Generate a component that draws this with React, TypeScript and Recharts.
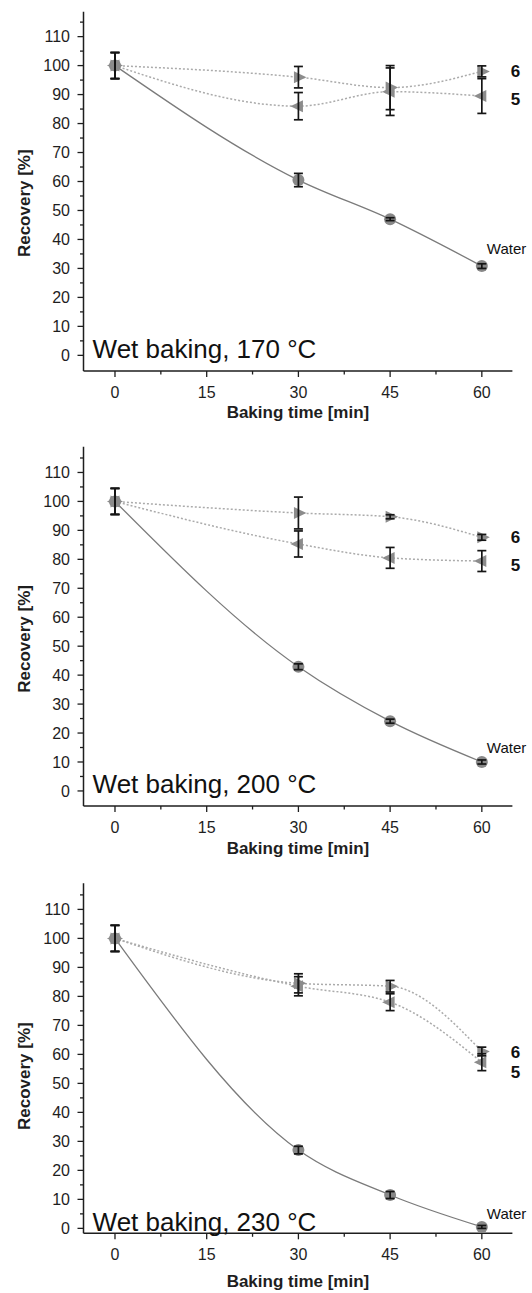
import React from 'react';
import { ComposedChart, Line, XAxis, YAxis, ErrorBar, ReferenceDot } from 'recharts';

const FONT = '"Liberation Sans", Arial, Helvetica, sans-serif';

// Baking times (min)
const times = [0, 30, 45, 60];

// Tick values
const xTicks = [0, 7.5, 15, 22.5, 30, 37.5, 45, 52.5, 60];
const xMajor = [0, 15, 30, 45, 60];
const yTicks = [0, 5, 10, 15, 20, 25, 30, 35, 40, 45, 50, 55, 60, 65, 70, 75, 80, 85, 90, 95, 100, 105, 110, 115];

// Panel titles
const titles = ['Wet baking, 170 °C', 'Wet baking, 200 °C', 'Wet baking, 230 °C'];

// 170 °C
const water170 = [100, 60.5, 47.0, 30.8];
const water170Err = [4.5, 2.3, 0.5, 0.8];
const c6_170 = [100, 96.0, 92.4, 98.0];
const c6_170Err = [4.5, 3.7, 7.6, 1.9];
const c5_170 = [100, 86.0, 91.0, 89.5];
const c5_170Err = [4.5, 4.7, 8.2, 6.0];

// 200 °C
const water200 = [100, 42.9, 24.1, 10.0];
const water200Err = [4.5, 1.0, 0.7, 0.7];
const c6_200 = [100, 96.0, 94.7, 87.6];
const c6_200Err = [4.5, 5.5, 0.7, 1.0];
const c5_200 = [100, 85.3, 80.5, 79.4];
const c5_200Err = [4.5, 4.5, 3.6, 3.6];

// 230 °C
const water230 = [100, 27.0, 11.5, 0.5];
const water230Err = [4.5, 1.3, 1.2, 0.5];
const c6_230 = [100, 84.5, 83.5, 61.0];
const c6_230Err = [4.5, 3.3, 2.0, 1.5];
const c5_230 = [100, 83.5, 78.0, 57.3];
const c5_230Err = [4.5, 3.3, 2.9, 2.9];

// Series end-label heights (value units)
const label6Y = [98.2, 87.6, 61.0];
const label5Y = [88.5, 77.9, 54.1];
const labelWaterY = [36.9, 15.0, 5.2];

const buildRows = (w: number[], we: number[], a: number[], ae: number[], b: number[], be: number[]) =>
  times.map((t, i) => ({ t, water: w[i], waterErr: we[i], c6: a[i], c6Err: ae[i], c5: b[i], c5Err: be[i] }));

const panels = [
  { rows: buildRows(water170, water170Err, c6_170, c6_170Err, c5_170, c5_170Err), yDomain: [-5.4, 118.6], top: 0, height: 436, mt: 11.7, xh: 65, tOff: 47 },
  { rows: buildRows(water200, water200Err, c6_200, c6_200Err, c5_200, c5_200Err), yDomain: [-5.2, 118.9], top: 436, height: 436, mt: 10.7, xh: 66, tOff: 48 },
  { rows: buildRows(water230, water230Err, c6_230, c6_230Err, c5_230, c5_230Err), yDomain: [-1.7, 119.0], top: 872, height: 421, mt: 11.3, xh: 59.7, tOff: 54 },
];

const AX = '#1e1e1e';

const XTick = (props: any) => {
  const { x, y, payload } = props;
  const major = xMajor.includes(payload.value);
  return (
    <g>
      <line x1={x} x2={x} y1={y} y2={y + (major ? 6 : 3.5)} stroke={AX} strokeWidth={1.3} />
      {major && (
        <text x={x} y={y + 27} textAnchor="middle" fontSize={16} fill={AX} fontFamily={FONT}>
          {payload.value}
        </text>
      )}
    </g>
  );
};

const YTick = (props: any) => {
  const { x, y, payload } = props;
  const major = payload.value % 10 === 0;
  return (
    <g>
      <line x1={x} x2={x - (major ? 6 : 3.5)} y1={y} y2={y} stroke={AX} strokeWidth={1.3} />
      {major && (
        <text x={x - 13.5} y={y} dy="0.36em" textAnchor="end" fontSize={16} fill={AX} fontFamily={FONT}>
          {payload.value}
        </text>
      )}
    </g>
  );
};

const circleDot = (p: any) => (
  <circle key={`w-${p.index}`} cx={p.cx} cy={p.cy} r={6} fill="#888888" stroke="none" />
);
const rightTri = (p: any) => (
  <path
    key={`r-${p.index}`}
    d={`M${p.cx - 4.5},${p.cy - 6} L${p.cx + 8},${p.cy} L${p.cx - 4.5},${p.cy + 6} Z`}
    fill="#8c8c8c"
    stroke="none"
  />
);
const leftTri = (p: any) => (
  <path
    key={`l-${p.index}`}
    d={`M${p.cx + 4.5},${p.cy - 6} L${p.cx - 8},${p.cy} L${p.cx + 4.5},${p.cy + 6} Z`}
    fill="#8c8c8c"
    stroke="none"
  />
);

const Panel = ({ idx }: { idx: number }) => {
  const pn = panels[idx];
  return (
    <div style={{ position: 'absolute', left: 0, top: pn.top }}>
      <ComposedChart
        width={532}
        height={pn.height}
        data={pn.rows}
        margin={{ top: pn.mt, right: 19.6, bottom: 0, left: 0 }}
      >
        <XAxis
          dataKey="t"
          type="number"
          domain={[-5.15, 65]}
          ticks={xTicks}
          interval={0}
          tickSize={0}
          tickMargin={0}
          tickLine={false}
          axisLine={{ stroke: AX, strokeWidth: 1.5 }}
          tick={<XTick />}
          height={pn.xh}
          allowDataOverflow
          label={(p: any) => (
            <text
              x={p.viewBox.x + p.viewBox.width / 2}
              y={p.viewBox.y + pn.tOff}
              textAnchor="middle"
              fontSize={17}
              fontWeight="bold"
              fill={AX}
              fontFamily={FONT}
            >
              Baking time [min]
            </text>
          )}
        />
        <YAxis
          type="number"
          domain={pn.yDomain}
          ticks={yTicks}
          interval={0}
          tickSize={0}
          tickMargin={0}
          tickLine={false}
          axisLine={{ stroke: AX, strokeWidth: 1.5 }}
          tick={<YTick />}
          width={83.5}
          allowDataOverflow
        />
        <Line dataKey="water" type="monotone" stroke="#7b7b7b" strokeWidth={1.3} dot={circleDot} isAnimationActive={false} zIndex={400} />
        <Line dataKey="c5" type="monotone" stroke="#ababab" strokeWidth={1.5} strokeDasharray="2 2" dot={leftTri} isAnimationActive={false} zIndex={400} />
        <Line dataKey="c6" type="monotone" stroke="#ababab" strokeWidth={1.5} strokeDasharray="2 2" dot={rightTri} isAnimationActive={false} zIndex={400} />
        <Line dataKey="water" stroke="none" dot={false} isAnimationActive={false} legendType="none" zIndex={1500}>
          <ErrorBar dataKey="waterErr" width={4.5} stroke="#151515" strokeWidth={1.7} isAnimationActive={false} zIndex={1500} />
        </Line>
        <Line dataKey="c5" stroke="none" dot={false} isAnimationActive={false} legendType="none" zIndex={1500}>
          <ErrorBar dataKey="c5Err" width={4.5} stroke="#151515" strokeWidth={1.7} isAnimationActive={false} zIndex={1500} />
        </Line>
        <Line dataKey="c6" stroke="none" dot={false} isAnimationActive={false} legendType="none" zIndex={1500}>
          <ErrorBar dataKey="c6Err" width={4.5} stroke="#151515" strokeWidth={1.7} isAnimationActive={false} zIndex={1500} />
        </Line>
        <ReferenceDot
          x={60}
          y={label6Y[idx]}
          r={0}
          fill="none"
          stroke="none"
          ifOverflow="visible"
          label={{ value: '6', position: 'right', offset: 28.8, fontSize: 17, fontWeight: 'bold', fill: '#111', fontFamily: FONT }}
        />
        <ReferenceDot
          x={60}
          y={label5Y[idx]}
          r={0}
          fill="none"
          stroke="none"
          ifOverflow="visible"
          label={{ value: '5', position: 'right', offset: 28.8, fontSize: 17, fontWeight: 'bold', fill: '#111', fontFamily: FONT }}
        />
        <ReferenceDot
          x={60}
          y={labelWaterY[idx]}
          r={0}
          fill="none"
          stroke="none"
          ifOverflow="visible"
          label={{ value: 'Water', position: 'right', offset: 5, fontSize: 15, fill: '#111', fontFamily: FONT }}
        />
        <ReferenceDot
          x={0}
          y={0}
          r={0}
          fill="none"
          stroke="none"
          ifOverflow="visible"
          label={(p: any) => (
            <text x={p.viewBox.x - 22.4} y={p.viewBox.y + 2.5} fontSize={26} fill="#111" fontFamily={FONT}>
              {titles[idx]}
            </text>
          )}
        />
        <ReferenceDot
          x={0}
          y={52.5}
          r={0}
          fill="none"
          stroke="none"
          ifOverflow="visible"
          label={(p: any) => (
            <text
              transform={`translate(23.5, ${p.viewBox.y}) rotate(-90)`}
              textAnchor="middle"
              dy="0.36em"
              fontSize={17}
              fontWeight="bold"
              fill={AX}
              fontFamily={FONT}
            >
              Recovery [%]
            </text>
          )}
        />
      </ComposedChart>
    </div>
  );
}

export default function App() {
  return (
    <div style={{ position: 'absolute', left: 0, top: 0, width: 532, height: 1293, background: '#fff', fontFamily: FONT }}>
      <Panel idx={0} />
      <Panel idx={1} />
      <Panel idx={2} />
    </div>
  );
}
